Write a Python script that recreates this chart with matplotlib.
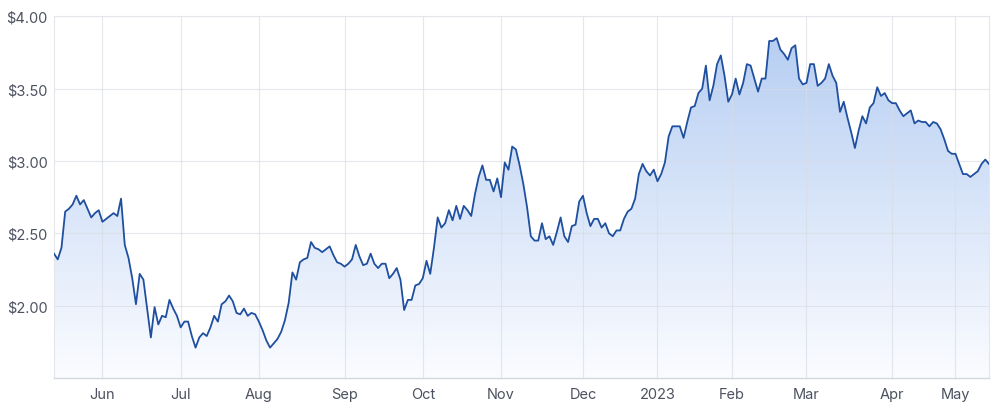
import numpy as np
import matplotlib
matplotlib.use('Agg')
import matplotlib.pyplot as plt
from matplotlib.colors import LinearSegmentedColormap
from matplotlib.patches import Polygon
from matplotlib.ticker import FuncFormatter

# daily closes, one list per month (trading days only)
may22 = [2.36, 2.32, 2.40, 2.65, 2.67, 2.70, 2.76, 2.70, 2.73, 2.67, 2.61, 2.64, 2.66]
jun22 = [2.58, 2.60, 2.62, 2.64, 2.62, 2.74, 2.42, 2.33, 2.19, 2.01, 2.22, 2.18, 1.98, 1.78,
         1.99, 1.87, 1.93, 1.92, 2.04, 1.98, 1.93]
jul22 = [1.85, 1.89, 1.89, 1.79, 1.71, 1.78, 1.81, 1.79, 1.85, 1.93, 1.89, 2.01, 2.03, 2.07,
         2.03, 1.95, 1.94, 1.98, 1.93, 1.95, 1.94]
aug22 = [1.89, 1.83, 1.76, 1.71, 1.74, 1.77, 1.82, 1.90, 2.02, 2.23, 2.18, 2.30, 2.32, 2.33,
         2.44, 2.40, 2.39, 2.37, 2.39, 2.41, 2.35, 2.30, 2.29]
sep22 = [2.27, 2.29, 2.32, 2.42, 2.34, 2.28, 2.29, 2.36, 2.29, 2.26, 2.29, 2.29, 2.19, 2.22,
         2.26, 2.18, 1.97, 2.04, 2.04, 2.14, 2.15]
oct22 = [2.19, 2.31, 2.22, 2.40, 2.61, 2.54, 2.57, 2.66, 2.59, 2.69, 2.60, 2.69, 2.66, 2.62,
         2.77, 2.89, 2.97, 2.87, 2.87, 2.79, 2.88]
nov22 = [2.75, 2.99, 2.94, 3.10, 3.08, 2.97, 2.84, 2.68, 2.48, 2.45, 2.45, 2.57, 2.46, 2.48,
         2.42, 2.51, 2.61, 2.48, 2.44, 2.55, 2.56, 2.72]
dec22 = [2.76, 2.64, 2.55, 2.60, 2.60, 2.54, 2.57, 2.50, 2.48, 2.52, 2.52, 2.60, 2.65, 2.67,
         2.74, 2.91, 2.98, 2.93, 2.90, 2.94]
jan23 = [2.86, 2.91, 2.99, 3.17, 3.24, 3.24, 3.24, 3.16, 3.27, 3.37, 3.38, 3.47, 3.50, 3.66,
         3.42, 3.52, 3.67, 3.73, 3.59, 3.41]
feb23 = [3.46, 3.57, 3.46, 3.54, 3.67, 3.66, 3.57, 3.48, 3.57, 3.57, 3.83, 3.83, 3.85, 3.77,
         3.74, 3.70, 3.78, 3.80, 3.57, 3.53]
mar23 = [3.54, 3.67, 3.67, 3.52, 3.54, 3.57, 3.67, 3.59, 3.54, 3.34, 3.41, 3.30, 3.20, 3.09,
         3.21, 3.31, 3.26, 3.37, 3.40, 3.51, 3.45, 3.47, 3.42]
apr23 = [3.40, 3.40, 3.35, 3.31, 3.33, 3.35, 3.26, 3.28, 3.27, 3.27, 3.24, 3.27, 3.26, 3.22,
         3.15, 3.07, 3.05]
may23 = [3.05, 2.98, 2.91, 2.91, 2.89, 2.91, 2.93, 2.98, 3.01, 2.98]

months = [may22, jun22, jul22, aug22, sep22, oct22, nov22, dec22, jan23, feb23, mar23, apr23, may23]
month_labels = ['May', 'Jun', 'Jul', 'Aug', 'Sep', 'Oct', 'Nov', 'Dec', '2023', 'Feb', 'Mar', 'Apr', 'May']
y_ticks = [2.0, 2.5, 3.0, 3.5, 4.0]

price = np.concatenate(months)
x = np.arange(len(price))
starts = np.cumsum([0] + [len(m) for m in months[:-1]])

plt.rcParams['font.family'] = ['Inter', 'DejaVu Sans']
text_col = '#4d5260'
grid_col = '#e4e6eb'
ymin, ymax = 1.5, 4.0

fig = plt.figure(figsize=(10, 4.1), dpi=100)
ax = fig.add_axes([0.054, 0.0756, 0.935, 0.882])

# gradient fill under the line
cmap = LinearSegmentedColormap.from_list('fade', ['#fbfcff', '#b3ccf2'])
grad = np.linspace(0, 1, 256).reshape(-1, 1)
im = ax.imshow(grad, cmap=cmap, origin='lower', aspect='auto',
               extent=(x[0], x[-1], ymin, ymax), zorder=0)
verts = np.column_stack([np.r_[x[0], x, x[-1]], np.r_[ymin, price, ymin]])
area = Polygon(verts, facecolor='none', edgecolor='none')
ax.add_patch(area)
im.set_clip_path(area)

ax.plot(x, price, color='#1f4f9f', lw=1.3, zorder=3)

ax.set_xlim(x[0], x[-1])
ax.set_ylim(ymin, ymax)
ax.set_xticks(starts[1:], month_labels[1:])
ax.set_yticks(y_ticks)
ax.yaxis.set_major_formatter(FuncFormatter(lambda v, p: f'${v:.2f}'))
ax.tick_params(length=0, labelsize=10.5, labelcolor=text_col)
ax.tick_params(axis='y', pad=4.5)
ax.tick_params(axis='x', pad=6.5)
ax.grid(True, color='#d9dde5', lw=0.8, alpha=0.7)
ax.set_axisbelow(True)
for s in ['left', 'right', 'top']:
    ax.spines[s].set_color(grid_col)
    ax.spines[s].set_linewidth(0.8)
ax.spines['bottom'].set_color('#d3d7de')
ax.spines['bottom'].set_linewidth(1.0)

plt.savefig('out.png', dpi=100)
